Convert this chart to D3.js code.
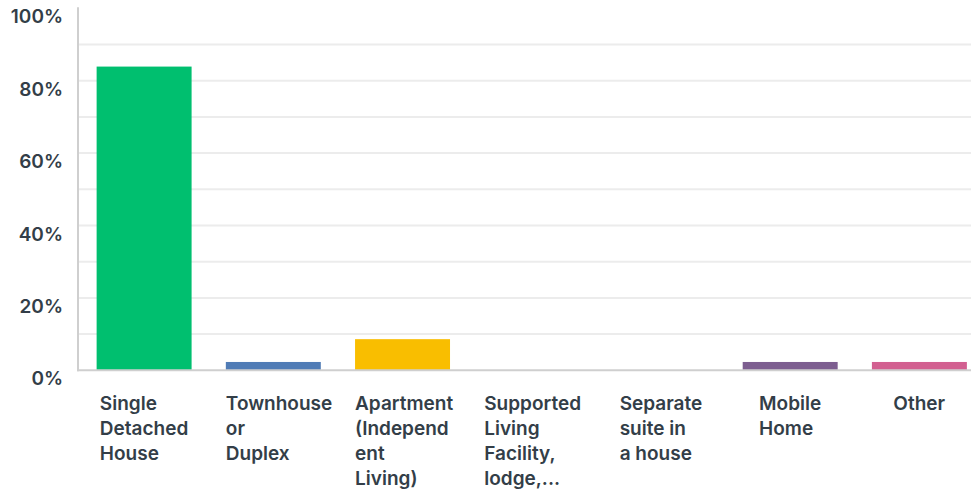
<!DOCTYPE html>
<html>
<head>
<meta charset="utf-8">
<script src="https://cdn.jsdelivr.net/npm/d3@7"></script>
<style>
  body { margin: 0; background: #fff; }
  svg text { font-family: "Inter", "Roboto", sans-serif; font-weight: 600; fill: #333e48; }
</style>
</head>
<body>
<svg id="chart" width="971" height="493"></svg>
<script>
// Answer choices and share of respondents (0-1).
const categories = ["Single Detached House", "Townhouse or Duplex", "Apartment (Independent Living)",
    "Supported Living Facility, lodge,...", "Separate suite in a house", "Mobile Home", "Other"];
const values = [0.839, 0.023, 0.086, 0, 0, 0.023, 0.023];
const colors = ["#00bf6f", "#507cb6", "#f9be00", "#6bc8cd", "#ff8b4f", "#7d5e90", "#d25f90"];

// Wrapped tick labels, as the survey tool shows them.
const tickLabels = [
    ["Single", "Detached", "House"],
    ["Townhouse", "or", "Duplex"],
    ["Apartment", "(Independ", "ent", "Living)"],
    ["Supported", "Living", "Facility,", "lodge,..."],
    ["Separate", "suite in", "a house"],
    ["Mobile", "Home"],
    ["Other"]
];
const yTicks = [0, 0.2, 0.4, 0.6, 0.8, 1];
const gridTicks = d3.range(1, 10).map(d => d / 10);

let svg = d3.select("#chart");

let x = d3.scaleBand()
    .domain(categories)
    .range([79.5, 984])
    .paddingInner(0.265)
    .paddingOuter(0.1325);

let y = d3.scaleLinear()
    .domain([0, 1])
    .range([370.3, 8.3]);

// Light grid lines every 10%.
svg.append("g")
    .selectAll("line")
    .data(gridTicks)
    .join("line")
    .attr("x1", 79)
    .attr("x2", 971)
    .attr("y1", d => y(d))
    .attr("y2", d => y(d))
    .attr("stroke", "#ececec")
    .attr("stroke-width", 2);

// Bars.
svg.append("g")
    .selectAll("rect")
    .data(values)
    .join("rect")
    .attr("x", (d, i) => x(categories[i]))
    .attr("width", x.bandwidth())
    .attr("y", d => y(d))
    .attr("height", d => y(0) - y(d))
    .attr("fill", (d, i) => colors[i]);

// Axis lines.
svg.append("line")
    .attr("x1", 78).attr("x2", 78)
    .attr("y1", y(1) - 1).attr("y2", y(0) + 1)
    .attr("stroke", "#cfcfcf").attr("stroke-width", 2);
svg.append("line")
    .attr("x1", 77).attr("x2", 971)
    .attr("y1", y(0)).attr("y2", y(0))
    .attr("stroke", "#cfcfcf").attr("stroke-width", 2);

// Y tick labels.
svg.append("g")
    .selectAll("text")
    .data(yTicks)
    .join("text")
    .attr("x", 63)
    .attr("y", d => y(d) + 15)
    .attr("text-anchor", "end")
    .attr("font-size", 19)
    .text(d => d3.format(".0%")(d));

// X tick labels, one tspan per line; the block is centred under the bar
// but never starts left of the bar.
let xLabel = svg.append("g")
    .selectAll("text")
    .data(categories)
    .join("text")
    .attr("y", 410)
    .attr("font-size", 19);

xLabel.selectAll("tspan")
    .data((d, i) => tickLabels[i])
    .join("tspan")
    .attr("x", 0)
    .attr("dy", (d, i) => i === 0 ? 0 : 25)
    .text(d => d);

xLabel.each(function(d) {
    let w = this.getBBox().width;
    let left = Math.max(x(d), x(d) + x.bandwidth() / 2 - w / 2);
    d3.select(this).selectAll("tspan").attr("x", left);
});
</script>
</body>
</html>
